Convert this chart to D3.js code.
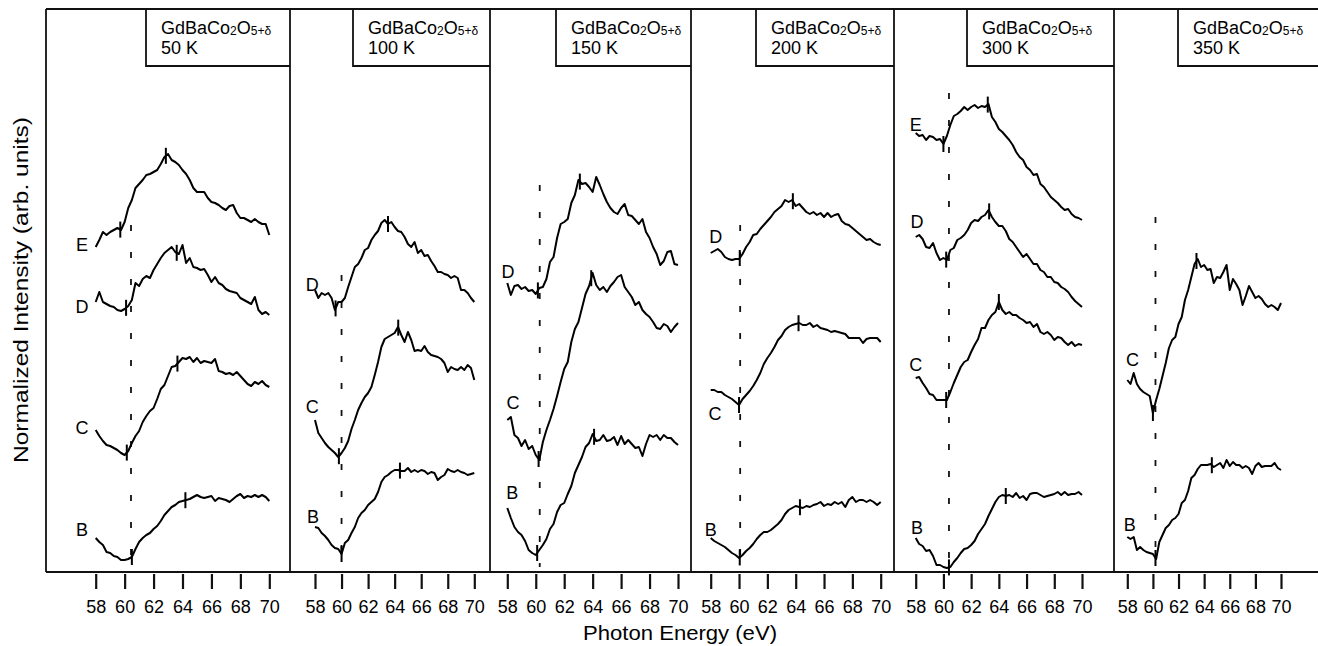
<!DOCTYPE html>
<html>
<head>
<meta charset="utf-8">
<script src="https://cdn.jsdelivr.net/npm/d3@7"></script>
<style>
  html, body { margin: 0; padding: 0; background: #fff; }
  svg { display: block; }
  text { font-family: "Liberation Sans", Arial, Helvetica, sans-serif; fill: #000; }
</style>
</head>
<body>
<svg id="chart" width="1318" height="646"></svg>
<script>
// Photon energy grid shared by all spectra (eV)
const energies = d3.range(58, 70.001, 0.25);
const energyTicks = [58, 60, 62, 64, 66, 68, 70];
const temperatures = ["50 K", "100 K", "150 K", "200 K", "300 K", "350 K"];

// Spectra, offset intensities (arb. units), one array per curve
const t50_E = [325,332,340,337,340,342,344,342,350,364,372,384,388,392,397,398,400,402,408,415,418,412,410,407,402,398,392,384,380,380,380,374,370,369,367,364,362,366,367,359,354,354,352,350,353,350,348,348,337];
const t50_D = [270,280,270,268,266,265,262,261,263,266,272,289,286,293,296,294,302,308,314,319,322,325,320,318,327,309,314,305,304,302,303,297,290,295,289,287,283,281,280,279,274,272,270,268,275,262,258,260,257];
const t50_C = [142,136,131,127,126,124,122,119,117,121,129,136,141,150,156,161,164,173,183,187,196,205,206,210,214,213,215,210,214,209,211,210,209,213,201,200,198,199,197,200,196,192,188,186,190,188,191,187,185];
const t50_B = [34,30,27,20,19,16,15,12,12,13,15,23,30,34,37,39,43,46,51,57,61,65,67,70,71,72,73,75,77,75,74,75,76,71,74,73,72,70,73,76,78,74,76,75,77,75,77,75,71];

const t100_D = [282,274,279,277,279,274,262,270,270,274,285,295,305,308,314,322,324,332,337,341,349,352,348,350,345,341,340,335,328,325,330,319,322,316,317,311,306,300,300,298,297,294,296,294,282,282,279,274,270];
const t100_C = [152,139,134,129,125,122,119,115,119,124,131,143,152,162,169,175,179,185,197,210,225,233,235,237,239,245,237,230,240,232,221,222,221,226,220,217,216,215,213,209,200,205,203,202,205,202,207,204,192];
const t100_B = [45,44,39,36,32,27,24,23,18,29,32,39,45,54,59,62,67,70,73,80,90,95,97,100,102,102,101,101,104,100,102,100,102,101,98,100,99,92,95,97,103,101,100,102,100,99,97,98,99];

const t150_D = [289,277,286,287,283,285,281,282,278,284,285,293,310,315,334,348,350,353,369,377,392,388,389,385,380,395,387,378,370,364,360,358,364,368,357,356,352,348,353,340,334,325,318,307,311,320,321,308,307];
const t150_C = [152,155,137,134,126,132,123,126,117,112,130,142,152,163,176,190,203,210,230,243,250,264,278,286,299,287,282,285,280,286,290,295,297,285,280,275,267,270,262,258,255,250,244,243,248,246,240,245,249];
const t150_B = [64,54,45,40,37,31,22,19,17,22,27,33,43,48,60,67,69,78,86,99,107,115,125,129,138,131,132,137,131,132,135,127,136,128,132,128,124,125,116,128,137,135,137,132,137,134,134,130,127];

const t200_D = [319,321,323,320,315,313,312,313,313,318,325,330,337,338,343,347,351,355,360,363,366,372,370,372,366,368,364,360,358,360,357,359,355,359,355,357,358,351,348,347,344,341,338,335,332,333,330,328,327];
const t200_C = [182,182,180,180,177,175,173,170,167,173,177,181,186,192,199,208,214,219,225,232,236,242,245,247,248,249,247,247,249,245,247,244,243,242,240,241,240,239,238,234,234,234,234,229,233,234,234,234,230];
const t200_B = [34,31,29,27,25,22,19,17,14,17,21,24,28,33,37,40,40,42,45,48,52,58,62,64,66,65,64,66,65,67,68,70,66,68,67,70,68,70,65,72,75,70,72,72,70,72,70,67,70];

const t300_E = [439,436,437,432,436,435,432,433,428,436,447,456,458,461,465,462,465,467,464,466,465,468,455,450,443,440,436,432,427,420,415,412,405,402,397,398,388,385,380,375,372,369,365,362,363,358,355,354,352];
const t300_D = [335,337,333,325,324,329,319,312,314,312,322,324,332,334,337,342,349,352,351,355,357,362,355,350,346,346,341,333,330,325,320,315,318,313,308,308,302,300,295,295,290,289,285,283,280,275,271,268,265];
const t300_C = [194,195,189,184,178,177,172,172,172,172,180,189,197,205,210,212,220,227,233,244,244,252,257,260,270,262,258,260,257,257,254,252,249,250,245,248,240,238,240,237,232,235,234,230,227,230,226,228,227];
const t300_B = [34,28,26,21,22,16,7,7,5,4,5,10,14,19,23,24,27,31,38,43,48,56,63,70,75,77,76,77,75,79,74,76,72,78,79,79,77,75,76,77,78,80,77,80,77,78,78,80,77];

const t350_C = [192,188,199,188,183,180,178,176,159,172,183,196,209,224,232,235,248,255,272,282,295,308,313,305,307,302,303,289,295,294,300,307,282,293,288,282,267,276,286,280,274,276,273,268,265,267,265,262,269];
const t350_B = [35,33,35,22,25,22,20,19,18,13,30,37,44,47,52,54,58,69,72,81,94,97,103,107,107,107,108,105,107,109,104,112,106,110,107,107,104,106,104,98,106,109,105,106,106,106,109,104,102];

// Energies of the edge-onset and peak markers on each curve (eV)
const t50_marks  = { E: [59.7, 62.85], D: [60.1, 63.6], C: [60.15, 63.65], B: [60.5, 64.2] };
const t100_marks = { D: [59.55, 63.5], C: [59.8, 64.27], B: [60.0, 64.4] };
const t150_marks = { D: [60.15, 63.1], C: [60.2, 63.9], B: [60.1, 64.1] };
const t200_marks = { D: [60.05, 63.8], C: [60.0, 64.2], B: [60.05, 64.3] };
const t300_marks = { E: [60.0, 63.2], D: [60.2, 63.3], C: [60.2, 64.0], B: [60.4, 64.5] };
const t350_marks = { C: [60.0, 63.4], B: [60.2, 64.6] };

// Curve letters: [energy, intensity] where each letter sits
const t50_letters  = { E: [57.05, 327], D: [57.05, 265], C: [57.05, 144], B: [57.05, 42] };
const t100_letters = { D: [57.8, 287], C: [57.8, 165], B: [57.85, 55] };
const t150_letters = { D: [58.05, 300], C: [58.4, 169], B: [58.35, 79] };
const t200_letters = { D: [58.35, 335], C: [58.3, 158], B: [58.0, 42] };
const t300_letters = { E: [58.0, 447], D: [58.1, 350], C: [58.0, 207], B: [58.1, 44] };
const t350_letters = { C: [58.4, 212], B: [58.2, 47] };

// Reference energy of the dashed guide and the intensity where it starts
const guideEnergy = [60.44, 60.0, 60.28, 60.08, 60.4, 60.2];
const guideTop = [347, 297, 387, 347, 479, 355];
const guideBottom = 5;

const panels = [
  { temp: temperatures[0], curves: { E: t50_E, D: t50_D, C: t50_C, B: t50_B }, marks: t50_marks, letters: t50_letters },
  { temp: temperatures[1], curves: { D: t100_D, C: t100_C, B: t100_B }, marks: t100_marks, letters: t100_letters },
  { temp: temperatures[2], curves: { D: t150_D, C: t150_C, B: t150_B }, marks: t150_marks, letters: t150_letters },
  { temp: temperatures[3], curves: { D: t200_D, C: t200_C, B: t200_B }, marks: t200_marks, letters: t200_letters },
  { temp: temperatures[4], curves: { E: t300_E, D: t300_D, C: t300_C, B: t300_B }, marks: t300_marks, letters: t300_letters },
  { temp: temperatures[5], curves: { C: t350_C, B: t350_B }, marks: t350_marks, letters: t350_letters }
];

// ---- layout ----
const W = 1318, H = 646;
const plotTop = 9, plotBottom = 572;
const panelEdges = [46, 290, 490, 691, 894, 1114, 1318];
const axisSpan = [[95.7, 269.3], [315, 474.3], [507.3, 678], [710.7, 880.7], [915.7, 1082], [1127.3, 1281]];
const boxLeft = [146, 353, 556, 756, 967, 1178];
const boxBottom = 66;

const svg = d3.select("#chart");
svg.append("rect").attr("width", W).attr("height", H).attr("fill", "#fff");

const y = d3.scaleLinear().domain([0, 563]).range([plotBottom, plotTop]);

const line = (x) => d3.line()
  .x((d, i) => x(energies[i]))
  .y(d => y(d))
  .curve(d3.curveLinear);

const valueAt = (values, e) => {
  const i = Math.max(0, Math.min(energies.length - 2, Math.floor((e - 58) / 0.25)));
  const t = (e - energies[i]) / 0.25;
  return values[i] + (values[i + 1] - values[i]) * t;
};

// Frame: top and bottom rules plus the panel separators
const frame = svg.append("g").attr("stroke", "#111").attr("stroke-width", 1.8).attr("fill", "none");
frame.append("line").attr("x1", panelEdges[0]).attr("x2", W).attr("y1", plotTop).attr("y2", plotTop);
frame.append("line").attr("x1", panelEdges[0]).attr("x2", W).attr("y1", plotBottom).attr("y2", plotBottom);
panelEdges.slice(0, 6).forEach(px => {
  frame.append("line").attr("x1", px).attr("x2", px).attr("y1", plotTop).attr("y2", plotBottom);
});

panels.forEach((p, k) => {
  const x = d3.scaleLinear().domain([58, 70]).range(axisSpan[k]);
  const g = svg.append("g");

  // sample / temperature box
  const bx = boxLeft[k], br = panelEdges[k + 1] + (k === 5 ? 2 : 0);
  g.append("path")
    .attr("d", `M${bx},${plotTop} V${boxBottom} H${br}`)
    .attr("fill", "none").attr("stroke", "#111").attr("stroke-width", 1.8);
  const t1 = g.append("text").attr("x", bx + 15).attr("y", 34).attr("font-size", 18);
  t1.append("tspan").text("GdBaCo");
  t1.append("tspan").attr("font-size", 12).attr("dy", 1).text("2");
  t1.append("tspan").attr("dy", -1).text("O");
  t1.append("tspan").attr("font-size", 12).attr("dy", 1).text("5+δ");
  g.append("text").attr("x", bx + 15).attr("y", 54).attr("font-size", 18).text(p.temp);

  // dashed guide at the absorption onset
  g.append("line")
    .attr("x1", x(guideEnergy[k])).attr("x2", x(guideEnergy[k]))
    .attr("y1", y(guideTop[k])).attr("y2", y(guideBottom))
    .attr("stroke", "#111").attr("stroke-width", 1.8).attr("stroke-dasharray", "6,21");

  // spectra
  Object.entries(p.curves).forEach(([name, values]) => {
    g.append("path").datum(values)
      .attr("d", line(x))
      .attr("fill", "none").attr("stroke", "#000")
      .attr("stroke-width", 2).attr("stroke-linejoin", "round");
    p.marks[name].forEach(e => {
      const v = valueAt(values, e);
      g.append("line")
        .attr("x1", x(e)).attr("x2", x(e))
        .attr("y1", y(v) - 8).attr("y2", y(v) + 8)
        .attr("stroke", "#000").attr("stroke-width", 2);
    });
    const [le, lv] = p.letters[name];
    g.append("text")
      .attr("x", x(le)).attr("y", y(lv))
      .attr("text-anchor", "middle").attr("dominant-baseline", "central")
      .attr("font-size", 18).text(name);
  });

  // energy axis
  const axis = d3.axisBottom(x).tickValues(energyTicks).tickSize(15).tickPadding(11).tickFormat(d3.format("d"));
  const ag = g.append("g").attr("transform", `translate(0,${plotBottom + 2})`).call(axis);
  ag.select(".domain").remove();
  ag.selectAll(".tick line").attr("stroke", "#111").attr("stroke-width", 2.2);
  ag.selectAll(".tick text").attr("font-size", 18).attr("fill", "#000")
    .attr("font-family", "Liberation Sans, Arial, sans-serif");
});

// axis titles
svg.append("text")
  .attr("transform", "translate(28,290) rotate(-90)")
  .attr("text-anchor", "middle").attr("font-size", 21)
  .attr("textLength", 346).attr("lengthAdjust", "spacingAndGlyphs")
  .text("Normalized Intensity (arb. units)");
svg.append("text")
  .attr("x", 680).attr("y", 640)
  .attr("text-anchor", "middle").attr("font-size", 20)
  .attr("textLength", 194).attr("lengthAdjust", "spacingAndGlyphs")
  .text("Photon Energy (eV)");
</script>
</body>
</html>
